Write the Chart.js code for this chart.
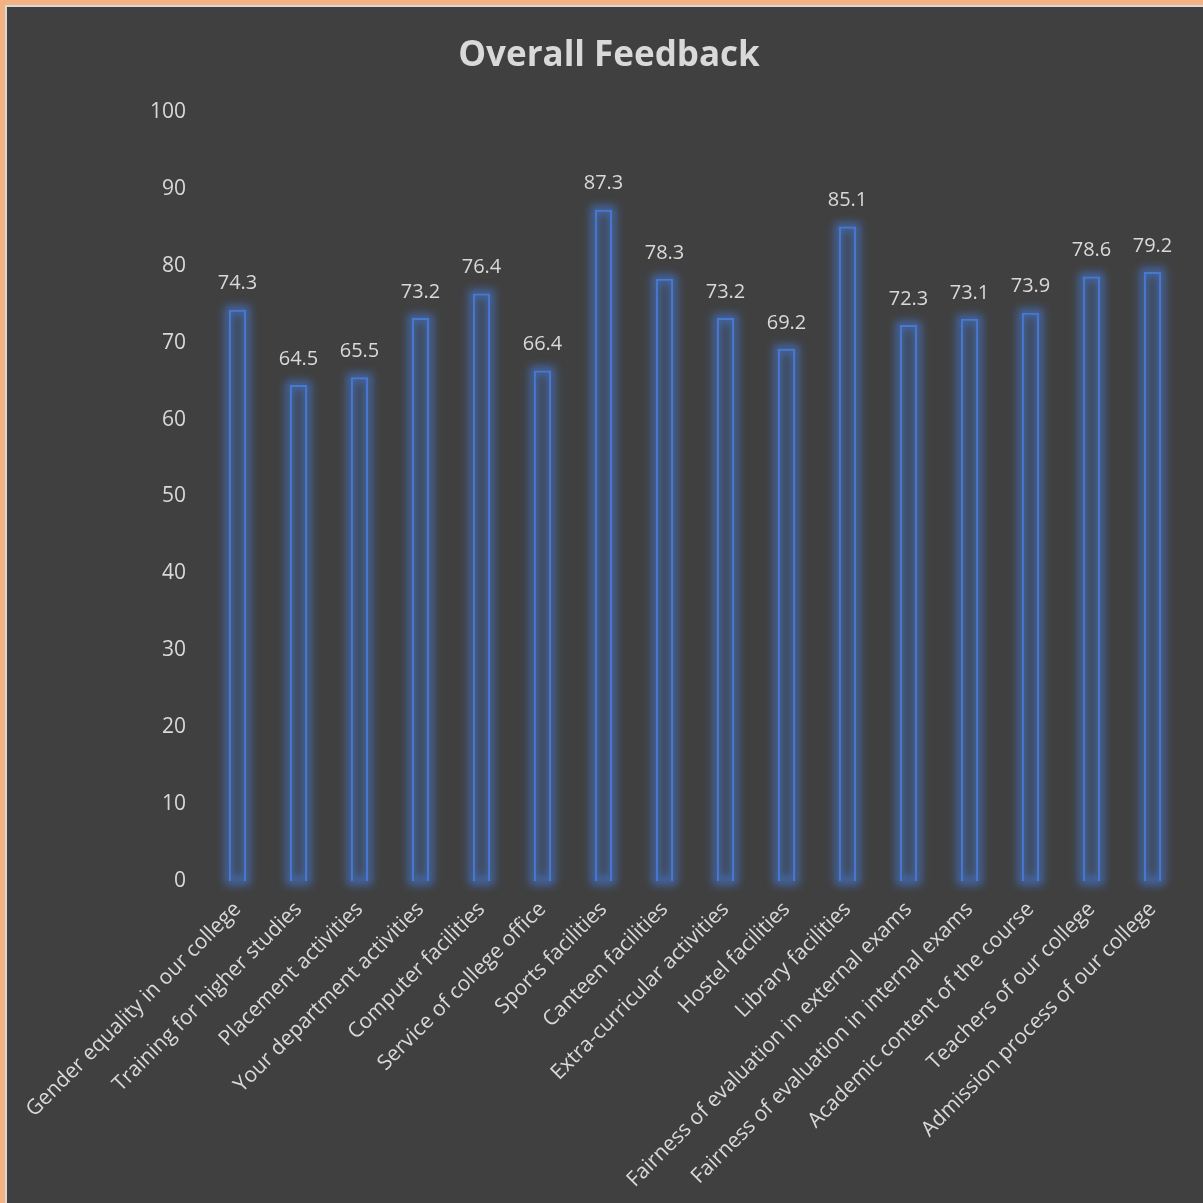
<!DOCTYPE html>
<html>
<head>
<meta charset="utf-8">
<script src="https://cdn.jsdelivr.net/npm/chart.js@4.4.1/dist/chart.umd.min.js"></script>
<style>
  html, body { margin: 0; padding: 0; background: #F4B183; overflow: hidden; }
  #frame {
    position: absolute; left: 5px; top: 5px;
    width: 1198px; height: 1198px;
    border-left: 2px solid #d9d9d9; border-top: 2px solid #d9d9d9;
    background: #404040;
  }
  #wrap { position: absolute; left: 0; top: 0; width: 1196px; height: 1196px; }
</style>
</head>
<body>
<div id="frame"><div id="wrap"><canvas id="feedbackChart"></canvas></div></div>
<script>
// categories and scores
const categories = [
  'Gender equality in our college',
  'Training for higher studies',
  'Placement activities',
  'Your department activities',
  'Computer facilities',
  'Service of college office',
  'Sports facilities',
  'Canteen facilities',
  'Extra-curricular activities',
  'Hostel facilities',
  'Library facilities',
  'Fairness of evaluation in external exams',
  'Fairness of evaluation in internal exams',
  'Academic content of the course',
  'Teachers of our college',
  'Admission process of our college'
];
const scores = [74.3, 64.5, 65.5, 73.2, 76.4, 66.4, 87.3, 78.3, 73.2, 69.2, 85.1, 72.3, 73.1, 73.9, 78.6, 79.2];
const yTicks = [0, 10, 20, 30, 40, 50, 60, 70, 80, 90, 100];

const FONT = '"Open Sans", "Noto Sans", sans-serif';
const TEXT = '#d9d9d9';

// soft blue glow behind every bar
const glowPlugin = {
  id: 'glow',
  beforeDatasetsDraw(chart) {
    const ctx = chart.ctx;
    const meta = chart.getDatasetMeta(0);
    ctx.save();
    ctx.filter = 'blur(4px)';
    ctx.strokeStyle = 'rgba(68,114,196,0.8)';
    ctx.lineWidth = 8;
    meta.data.forEach(bar => {
      const w = bar.width;
      ctx.strokeRect(bar.x - w / 2, bar.y, w, bar.base - bar.y);
    });
    ctx.restore();
  }
};

// value labels above each bar
const valueLabels = {
  id: 'valueLabels',
  afterDatasetsDraw(chart) {
    const ctx = chart.ctx;
    const meta = chart.getDatasetMeta(0);
    ctx.save();
    ctx.font = '20px ' + FONT;
    ctx.fillStyle = TEXT;
    ctx.textAlign = 'center';
    ctx.textBaseline = 'middle';
    meta.data.forEach((bar, i) => {
      ctx.fillText(scores[i].toFixed(1), bar.x, bar.y - 26);
    });
    ctx.restore();
  }
};

new Chart(document.getElementById('feedbackChart'), {
  type: 'bar',
  data: {
    labels: categories,
    datasets: [{
      data: scores,
      backgroundColor: 'rgba(68,114,196,0.10)',
      borderColor: '#4878d0',
      borderWidth: 2,
      categoryPercentage: 1,
      barPercentage: 0.28
    }]
  },
  options: {
    responsive: true,
    maintainAspectRatio: false,
    animation: false,
    layout: { padding: { left: 28, right: 20, top: 0, bottom: 0 } },
    plugins: {
      legend: { display: false },
      tooltip: { enabled: false },
      title: {
        display: true,
        text: 'Overall Feedback',
        color: TEXT,
        font: { family: FONT, size: 35, weight: 'bold' },
        padding: { top: 28, bottom: 35 }
      }
    },
    scales: {
      x: {
        grid: { display: false },
        border: { display: false },
        ticks: {
          color: TEXT,
          font: { family: FONT, size: 21 },
          autoSkip: false,
          minRotation: 45,
          maxRotation: 45,
          padding: 8
        },
        afterFit(scale) { scale.height = 322; }
      },
      y: {
        min: 0,
        max: 100,
        grid: { display: false },
        border: { display: false },
        afterBuildTicks(scale) { scale.ticks = yTicks.map(v => ({ value: v })); },
        ticks: {
          color: TEXT,
          font: { family: FONT, size: 21 },
          padding: 13
        },
        afterFit(scale) { scale.width = 172; }
      }
    }
  },
  plugins: [glowPlugin, valueLabels]
});
</script>
</body>
</html>
